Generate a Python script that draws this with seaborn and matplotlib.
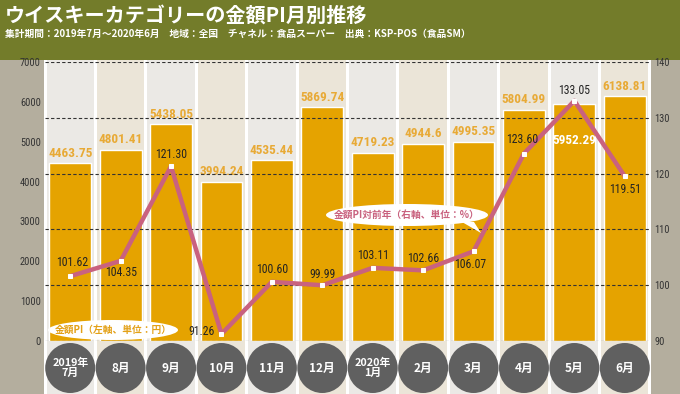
import numpy as np
import pandas as pd
import seaborn as sns
import matplotlib
matplotlib.use("Agg")
import matplotlib.pyplot as plt
from matplotlib.patches import Ellipse, Rectangle, Circle, Polygon
from matplotlib import font_manager as fm

# ---------------- data ----------------
months = ["2019年\n7月", "8月", "9月", "10月", "11月", "12月",
          "2020年\n1月", "2月", "3月", "4月", "5月", "6月"]
sales_pi = [4463.75, 4801.41, 5438.05, 3994.24, 4535.44, 5869.74,
            4719.23, 4944.6, 4995.35, 5804.99, 5952.29, 6138.81]
sales_text = ["4463.75", "4801.41", "5438.05", "3994.24", "4535.44", "5869.74",
              "4719.23", "4944.6", "4995.35", "5804.99", "5952.29", "6138.81"]
yoy = [101.62, 104.35, 121.30, 91.26, 100.60, 99.99,
       103.11, 102.66, 106.07, 123.60, 133.05, 119.51]
left_ticks = [0, 1000, 2000, 3000, 4000, 5000, 6000, 7000]
right_ticks = [90, 100, 110, 120, 130, 140]

title = "ウイスキーカテゴリーの金額PI月別推移"
subtitle = "集計期間：2019年7月～2020年6月　地域：全国　チャネル：食品スーパー　出典：KSP-POS（食品SM）"
legend_bar = "金額PI（左軸、単位：円）"
legend_line = "金額PI対前年（右軸、単位：%）"

# label placement (pixel offsets), kept apart from the data
yoy_off = [(2, 14), (0, -12), (0, 12), (-20, 2), (0, 12), (0, 11),
           (0, 12), (0, 12), (-3, -13), (-2, 14), (0, 10), (0, -13)]
bar_off = [10] * 12
bar_off[10] = -37

# ---------------- style ----------------
sns.set_style("white")
avail = {f.name for f in fm.fontManager.ttflist}
num_font = [f for f in ["Liberation Sans Narrow", "Roboto Condensed", "DejaVu Sans Condensed"] if f in avail] + ["DejaVu Sans"]
jp = ["Noto Sans CJK JP", "DejaVu Sans"]
plt.rcParams["font.family"] = jp

W, H = 680, 394
fig = plt.figure(figsize=(W / 100, H / 100), dpi=100)
fig.patch.set_facecolor("white")

bar_c = "#e5a300"
bar_lab_c = "#e8aa36"
line_c = "#c9627f"
olive = "#737c2a"
side_gray = "#b4ae9e"
col_c = ["#ebe9e5", "#ebe5d8"]

x0, x1 = 45, 650
ytop, ybot = 62, 341
colw = (x1 - x0) / 12

# background decorations (pixel coords)
bg = fig.add_axes([0, 0, 1, 1], zorder=-2)
bg.set_xlim(0, W); bg.set_ylim(H, 0); bg.axis("off")
for i in range(12):
    bg.add_patch(Rectangle((x0 + i * colw + 1.5, 60), colw - 3, H - 60, color=col_c[i % 2], lw=0))
bg.add_patch(Rectangle((0, 58), x0 - 1, H - 58, color=side_gray, lw=0))
bg.add_patch(Rectangle((x1 + 1, 58), W - x1, H - 58, color=side_gray, lw=0))
bg.add_patch(Rectangle((0, 0), W, 60, color=olive, lw=0))
bg.text(5, 15, title, color="white", fontsize=14.5, fontweight="bold", va="center", ha="left")
bg.text(5, 34, subtitle, color="white", fontsize=7.0, fontweight="bold", va="center", ha="left")
for i, m in enumerate(months):
    cx = x0 + (i + 0.5) * colw
    bg.add_patch(Circle((cx, 368), 25, color="#606060", lw=0))
    bg.text(cx, 368, m, color="white", fontsize=8.5 if "\n" not in m else 7.8,
            fontweight="bold", ha="center", va="center", linespacing=0.95)

# main axes
ax = fig.add_axes([x0 / W, (H - ybot) / H, (x1 - x0) / W, (ybot - ytop) / H], zorder=0)
df = pd.DataFrame({"month": months, "sales": sales_pi})
sns.barplot(data=df, x="month", y="sales", color=bar_c, saturation=1, width=0.83, ax=ax)
ax.set_xlim(-0.5, 11.5)
ax.set_ylim(0, 7000)
ax.patch.set_visible(False)
for s in ax.spines.values():
    s.set_visible(False)
ax.set_xlabel(""); ax.set_ylabel("")
ax.set_xticks([])
ax.set_yticks(left_ticks)
ax.set_yticklabels([str(v) for v in left_ticks], fontsize=7.5, color="#333333", family=num_font)
ax.tick_params(axis="y", length=0, pad=3)
for i, v in enumerate(sales_pi):
    ax.annotate(sales_text[i], (i, v), xytext=(0, bar_off[i]), textcoords="offset pixels",
                ha="center", va="center", fontsize=9.5, fontweight="bold",
                color="white" if bar_off[i] < 0 else bar_lab_c, family=num_font)

ax2 = ax.twinx()
ax2.set_zorder(1)
ax2.patch.set_visible(False)
sns.lineplot(x=np.arange(12), y=yoy, ax=ax2, color=line_c, lw=3.2, marker="s",
             markersize=3.5, markerfacecolor="white", markeredgecolor="white", zorder=3)
ax2.set_ylim(90, 140)
ax2.set_xlim(-0.5, 11.5)
for s in ax2.spines.values():
    s.set_visible(False)
ax2.set_yticks(right_ticks)
ax2.set_yticklabels([str(v) for v in right_ticks], fontsize=7.5, color="#333333", family=num_font)
ax2.tick_params(axis="y", length=0, pad=3)
ax2.set_axisbelow(True)
ax2.grid(axis="y", ls=(0, (3, 2)), color="#333333", lw=0.8)
ax2.grid(axis="x", visible=False)
for i, v in enumerate(yoy):
    dx, dy = yoy_off[i]
    ax2.annotate(f"{v:.2f}", (i, v), xytext=(dx, dy), textcoords="offset pixels",
                 ha="center", va="center", fontsize=8.5, color="#222222", family=num_font, zorder=4)

# foreground callouts (pixel coords)
fg = fig.add_axes([0, 0, 1, 1], zorder=5)
fg.set_xlim(0, W); fg.set_ylim(H, 0); fg.axis("off")
fg.add_patch(Ellipse((113, 330), 130, 20, color="white", lw=0))
fg.text(113, 330, legend_bar, color="#e3a118", fontsize=7, fontweight="bold", ha="center", va="center")
fg.add_patch(Polygon([(462, 222), (474, 222), (481, 233)], closed=True, color="white", lw=0))
fg.add_patch(Ellipse((407, 215), 162, 22, color="white", lw=0))
fg.text(407, 215, legend_line, color=line_c, fontsize=7, fontweight="bold", ha="center", va="center")

fig.savefig("out.png", dpi=100)
